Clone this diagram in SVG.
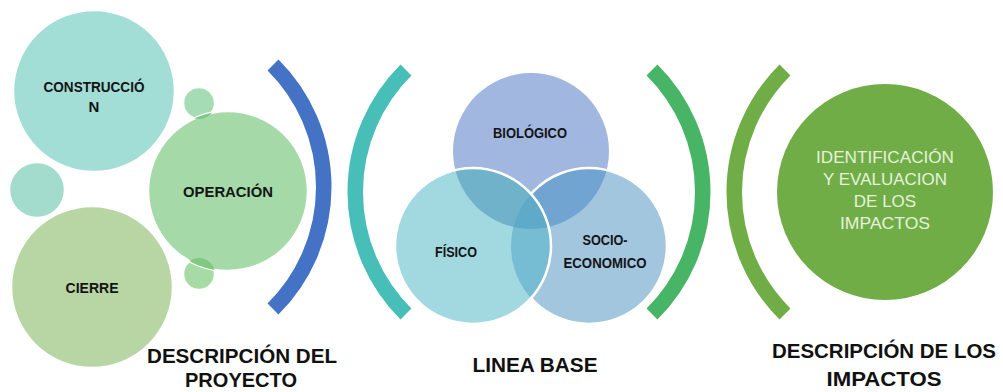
<svg xmlns="http://www.w3.org/2000/svg" width="1003" height="392" viewBox="0 0 1003 392">
<style>
.lbl{font-family:"Liberation Sans",Arial,sans-serif;font-weight:bold;fill:#141414;text-anchor:middle}
.s{font-size:15px}
.v{font-size:14.5px}
.ttl{font-family:"Liberation Sans",Arial,sans-serif;font-weight:bold;fill:#111;text-anchor:middle;font-size:21px}
.arc{fill:none;stroke-width:15.5;stroke-linecap:butt}
.wo{stroke:#fff;stroke-width:2.5}
</style>
<defs>
<clipPath id="cOp"><circle cx="228" cy="191" r="80"/></clipPath>
<clipPath id="cFis"><circle cx="473" cy="246" r="78"/></clipPath>
<clipPath id="cSoc"><circle cx="589" cy="246" r="78"/></clipPath>
<mask id="mNoFis" maskUnits="userSpaceOnUse" x="0" y="0" width="1003" height="392">
<rect x="0" y="0" width="1003" height="392" fill="#fff"/>
<circle cx="473" cy="246" r="77" fill="#000"/>
</mask>
</defs>
<rect width="1003" height="392" fill="#fff"/>

<g id="proyecto">
<g id="small-top">
<circle cx="199" cy="103" r="16" fill="#a6dcb3" class="wo"/>
</g>
<g id="small-left">
<circle cx="37" cy="190" r="28" fill="#a3dccc" class="wo"/>
</g>
<g id="small-bottom">
<circle cx="199" cy="274" r="16" fill="#a7dba6" class="wo"/>
</g>
<g id="construccion">
<circle cx="94" cy="91" r="81" fill="#a2ded6" class="wo"/>
<text class="lbl s" x="94" y="92" textLength="101" lengthAdjust="spacingAndGlyphs">CONSTRUCCIÓ</text>
<text class="lbl s" x="94" y="112">N</text>
</g>
<g id="operacion">
<circle cx="228" cy="191" r="80" fill="#a5d9a8" class="wo"/>
<g clip-path="url(#cOp)">
<circle cx="199" cy="103" r="16" fill="#7cc68a"/>
<circle cx="199" cy="274" r="16" fill="#80c983"/>
</g>
<text class="lbl s" x="228" y="197" textLength="90" lengthAdjust="spacingAndGlyphs">OPERACIÓN</text>
</g>
<g id="cierre">
<circle cx="92" cy="287" r="81" fill="#b8d6a3" class="wo"/>
<text class="lbl s" x="92" y="293" textLength="53" lengthAdjust="spacingAndGlyphs">CIERRE</text>
</g>
<text class="ttl" x="242" y="363" textLength="190" lengthAdjust="spacingAndGlyphs">DESCRIPCIÓN DEL</text>
<text class="ttl" x="241" y="387" textLength="112" lengthAdjust="spacingAndGlyphs">PROYECTO</text>
</g>

<g id="linea-base">
<g id="biologico">
<circle cx="531" cy="151" r="78" fill="#a2b7df"/>
</g>
<g id="socioeconomico">
<circle cx="589" cy="246" r="78" fill="#a3c6df"/>
<circle cx="531" cy="151" r="78" fill="#71a4d1" clip-path="url(#cSoc)"/>
<circle cx="589" cy="246" r="78" fill="none" class="wo" mask="url(#mNoFis)"/>
</g>
<g id="fisico">
<circle cx="473" cy="246" r="78" fill="#a2d8e0"/>
<circle cx="531" cy="151" r="78" fill="#71b2cb" clip-path="url(#cFis)"/>
<circle cx="589" cy="246" r="78" fill="#76bcd2" clip-path="url(#cFis)"/>
<g clip-path="url(#cFis)"><circle cx="531" cy="151" r="78" fill="#5eaac8" clip-path="url(#cSoc)"/></g>
<circle cx="473" cy="246" r="78" fill="none" class="wo"/>
</g>
<text class="lbl v" x="530" y="138" textLength="74" lengthAdjust="spacingAndGlyphs">BIOLÓGICO</text>
<text class="lbl v" x="456" y="257" textLength="42" lengthAdjust="spacingAndGlyphs">FÍSICO</text>
<text class="lbl v" x="605" y="245" textLength="45" lengthAdjust="spacingAndGlyphs">SOCIO-</text>
<text class="lbl v" x="605" y="268" textLength="83" lengthAdjust="spacingAndGlyphs">ECONOMICO</text>
<text class="ttl" x="535" y="372" textLength="125" lengthAdjust="spacingAndGlyphs">LINEA BASE</text>
</g>

<g id="impactos">
<circle cx="885" cy="192" r="108" fill="#70ad47"/>
<g font-family="Liberation Sans, Arial, sans-serif" font-size="17" fill="#e6f2dc" text-anchor="middle">
<text x="885" y="163" textLength="138" lengthAdjust="spacingAndGlyphs">IDENTIFICACIÓN</text>
<text x="885" y="185" textLength="124" lengthAdjust="spacingAndGlyphs">Y EVALUACION</text>
<text x="885" y="207">DE LOS</text>
<text x="885" y="229" textLength="90" lengthAdjust="spacingAndGlyphs">IMPACTOS</text>
</g>
<text class="ttl" x="884" y="358" textLength="224" lengthAdjust="spacingAndGlyphs">DESCRIPCIÓN DE LOS</text>
<text class="ttl" x="884" y="386" textLength="115" lengthAdjust="spacingAndGlyphs">IMPACTOS</text>
</g>

<g id="connectors">
<path class="arc" stroke="#4472c4" d="M273,65 A172,172 0 0,1 273,309"/>
<path class="arc" stroke="#47bfb8" d="M406,70 A172,172 0 0,0 406,314"/>
<path class="arc" stroke="#47b565" d="M652,70 A172,172 0 0,1 652,314"/>
<path class="arc" stroke="#70ad47" d="M785,70 A172,172 0 0,0 785,314"/>
</g>
</svg>
